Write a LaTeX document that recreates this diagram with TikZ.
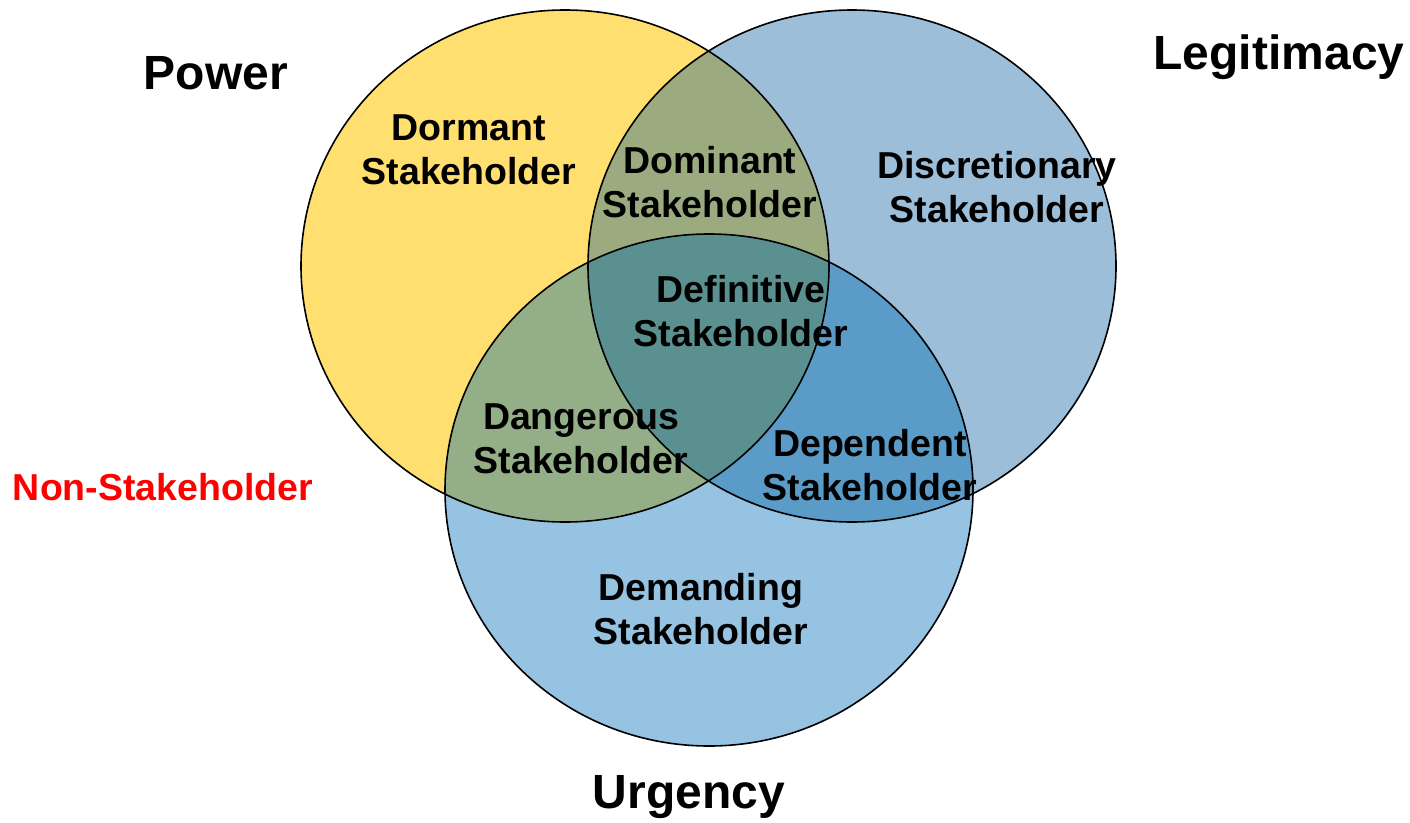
\documentclass[tikz,border=0pt]{standalone}
\usepackage{fontspec}
\setmainfont{Liberation Sans}
\definecolor{powerfill}{HTML}{FFDF70}
\definecolor{legitfill}{HTML}{9CBED8}
\definecolor{urgfill}{HTML}{95C3E1}
\definecolor{plfill}{HTML}{9BAB7F}
\definecolor{pufill}{HTML}{94AF88}
\definecolor{lufill}{HTML}{5A9BC7}
\definecolor{plufill}{HTML}{5A908F}
\definecolor{nonred}{HTML}{FF0000}
\begin{document}
\begin{tikzpicture}[x=1pt,y=-1pt,
  setname/.style={font=\bfseries\fontsize{48}{56}\selectfont, inner sep=0pt},
  region/.style={font=\bfseries\fontsize{37.5}{44}\selectfont, align=center, inner sep=0pt},
  outline/.style={draw=black, line width=1.6pt}]
\useasboundingbox (0,0) rectangle (1410,822);
% the three sets
\def\powerpath{(565,266) ellipse [x radius=264pt, y radius=256pt]}
\def\legitpath{(852,266) ellipse [x radius=264pt, y radius=256pt]}
\def\urgpath{(709,490) ellipse [x radius=264pt, y radius=256pt]}
% single-set areas
\fill[powerfill] \powerpath;
\fill[legitfill] \legitpath;
\fill[urgfill] \urgpath;
% pairwise overlaps
\begin{scope}
  \clip \powerpath;
  \fill[plfill] \legitpath;
  \fill[pufill] \urgpath;
\end{scope}
\begin{scope}
  \clip \legitpath;
  \fill[lufill] \urgpath;
  \clip \powerpath;
  \fill[plufill] \urgpath;
\end{scope}
% outlines
\draw[outline] \powerpath;
\draw[outline] \legitpath;
\draw[outline] \urgpath;
% set names
\node[setname] (power) at (216,73) {Power};
\node[setname] (legit) at (1279,57) {Legitimacy};
\node[setname] (urgency) at (689,797) {Urgency};
\node[region, text=nonred] (non) at (163,487) {Non-Stakeholder};
% stakeholder classes
\node[region] (dormant) at (469,150) {Dormant\\Stakeholder};
\node[region] (dominant) at (710,182) {Dominant\\Stakeholder};
\node[region] (discretionary) at (997,187) {Discretionary\\Stakeholder};
\node[region] (definitive) at (741,311) {Definitive\\Stakeholder};
\node[region] (dangerous) at (581,439) {Dangerous\\Stakeholder};
\node[region] (dependent) at (870,465) {Dependent\\Stakeholder};
\node[region] (demanding) at (701,609) {Demanding\\Stakeholder};
\end{tikzpicture}
\end{document}
